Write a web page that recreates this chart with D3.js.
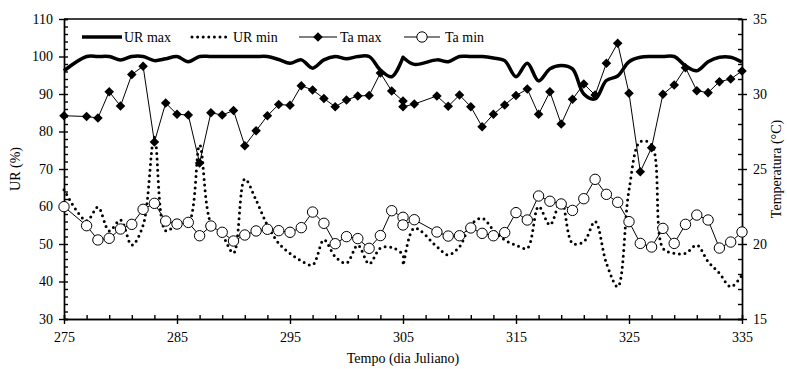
<!DOCTYPE html>
<html>
<head>
<meta charset="utf-8">
<script src="https://cdn.jsdelivr.net/npm/d3@7"></script>
<style>
  body { margin: 0; background: #fff; }
  text { font-family: "Liberation Serif", "Times New Roman", serif; fill: #000; }
</style>
</head>
<body>
<div id="vis"></div>
<script>
// set margin
const margin = { top: 19, right: 45, bottom: 50, left: 64 };
const width = 787 - margin.left - margin.right;
const height = 369 - margin.top - margin.bottom;

// julian days (276 and 307 missing, 305 measured twice)
const days = [275, 277, 278, 279, 280, 281, 282, 283, 284, 285, 286, 287, 288, 289, 290,
              291, 292, 293, 294, 295, 296, 297, 298, 299, 300, 301, 302, 303, 304, 305, 305,
              306, 308, 309, 310, 311, 312, 313, 314, 315, 316, 317, 318, 319, 320, 321,
              322, 323, 324, 325, 326, 327, 328, 329, 330, 331, 332, 333, 334, 335]

// UR (%)
const urMax = [96.2, 100, 100, 100, 99.1, 100, 100, 98.9, 99.4, 100, 98.6, 100, 100, 100, 100,
               100, 100, 100, 99.2, 98.2, 99.1, 96.9, 99.1, 100, 99.4, 100, 100, 96.4, 94.6, 99.8, 99.8,
               97.9, 99.1, 98.6, 100, 100, 100, 99.6, 98.9, 94.6, 98.2, 93.5, 96.7, 97.6, 96.7, 90,
               88.7, 93.6, 94.8, 98.6, 99.8, 100, 100, 100, 97.5, 96.2, 98.6, 99.8, 99.8, 98.5]
const urMin = [64.5, 56.2, 59.8, 53.5, 56.4, 49.7, 55, 78.5, 53.5, 55.3, 55.5, 76.4, 55.5, 52.4, 47.6,
               67.3, 61.7, 55, 50.2, 47.5, 45.5, 44.4, 51.1, 46.6, 44.9, 49.7, 44.7, 48.9, 49.1, 47, 44.4,
               54.2, 49.3, 47.1, 49.3, 55.1, 56.9, 53.7, 51.1, 49.7, 48.9, 60, 55.1, 61.7, 50.2, 50.6,
               56, 44.9, 38.6, 64.4, 77.3, 76.5, 48.9, 47.5, 47.5, 49.7, 45.3, 42.2, 38.6, 41.7]

// temperatura (°C)
const taMax = [28.55, 28.5, 28.4, 30.15, 29.2, 31.3, 31.85, 26.8, 29.4, 28.65, 28.6, 25.4, 28.75, 28.6, 28.9,
               26.55, 27.55, 28.55, 29.3, 29.25, 30.55, 30.27, 29.7, 29.15, 29.6, 29.87, 29.9, 31.4, 30.2, 29.53, 29.15,
               29.33, 29.87, 29.18, 29.93, 29.15, 27.82, 28.65, 29.27, 29.9, 30.33, 28.65, 30.15, 28.0, 29.65, 30.67,
               29.93, 32.05, 33.38, 30.05, 24.82, 26.42, 29.98, 30.6, 31.75, 30.22, 30.09, 30.82, 31.0, 31.53]
const taMin = [22.49, 21.22, 20.27, 20.38, 21.0, 21.31, 22.31, 22.71, 21.53, 21.33, 21.44, 20.55, 21.2, 20.78, 20.2,
               20.6, 20.87, 20.98, 20.89, 20.78, 21.09, 22.13, 21.38, 20.02, 20.49, 20.36, 19.71, 20.56, 22.22, 21.78, 21.27,
               21.62, 20.8, 20.53, 20.55, 21.07, 20.71, 20.55, 20.76, 22.09, 21.6, 23.2, 22.85, 22.67, 22.24, 23.02,
               24.31, 23.31, 22.78, 21.49, 20.04, 19.8, 21.04, 20.04, 21.31, 21.93, 21.6, 19.73, 20.13, 20.8]

// ticks
const xTicks = [275, 285, 295, 305, 315, 325, 335]
const urTicks = [30, 40, 50, 60, 70, 80, 90, 100, 110]
const tTicks = [15, 20, 25, 30, 35]

const legendNames = ['UR max', 'UR min', 'Ta max', 'Ta min']

const svg = d3.select('#vis')
    .append('svg')
    .attr('width', width + margin.left + margin.right)
    .attr('height', height + margin.top + margin.bottom)
    .append('g')
    .attr('transform', `translate(${margin.left},${margin.top})`)

const xScale = d3.scaleLinear().domain([275, 335]).range([0, width])
const yUR = d3.scaleLinear().domain([30, 110]).range([height, 0])
const yT = d3.scaleLinear().domain([15, 35]).range([height, 0])

function drawAxes() {
    // minor ticks point inwards
    svg.append('g')
        .attr('class', 'minor')
        .attr('transform', `translate(0,${height})`)
        .call(d3.axisBottom(xScale).tickValues(d3.range(275, 336, 2)).tickSize(-4).tickFormat(''))
    svg.append('g')
        .attr('class', 'minor')
        .call(d3.axisLeft(yUR).tickValues(d3.range(30, 111, 2)).tickSize(-4).tickFormat(''))
    svg.append('g')
        .attr('class', 'minor')
        .attr('transform', `translate(${width},0)`)
        .call(d3.axisRight(yT).tickValues(d3.range(15, 36, 1)).tickSize(-4).tickFormat(''))

    // major ticks point outwards
    svg.append('g')
        .attr('class', 'axis')
        .attr('transform', `translate(0,${height})`)
        .call(d3.axisBottom(xScale).tickValues(xTicks).tickSize(5).tickPadding(8).tickSizeOuter(0))
    svg.append('g')
        .attr('class', 'axis')
        .call(d3.axisLeft(yUR).tickValues(urTicks).tickSize(5).tickPadding(6).tickSizeOuter(0))
    svg.append('g')
        .attr('class', 'axis')
        .attr('transform', `translate(${width},0)`)
        .call(d3.axisRight(yT).tickValues(tTicks).tickSize(5).tickPadding(6).tickSizeOuter(0))

    svg.selectAll('.axis, .minor').selectAll('path, line')
        .attr('stroke', '#000')
        .attr('stroke-width', 1.4)
    svg.selectAll('.axis text')
        .style('font-size', '14px')
        .style('font-family', '"Liberation Serif", serif')
        .attr('fill', '#000')

    // top border
    svg.append('line')
        .attr('x1', 0).attr('x2', width)
        .attr('y1', 0).attr('y2', 0)
        .attr('stroke', '#000')
        .attr('stroke-width', 1.4)

    svg.append('text')
        .attr('x', width / 2)
        .attr('y', height + 44)
        .style('text-anchor', 'middle')
        .style('font-size', '14px')
        .text('Tempo (dia Juliano)')

    svg.append('text')
        .attr('transform', 'rotate(-90)')
        .attr('x', -height / 2)
        .attr('y', -margin.left + 20)
        .style('text-anchor', 'middle')
        .style('font-size', '14px')
        .text('UR (%)')

    svg.append('text')
        .attr('transform', 'rotate(-90)')
        .attr('x', -height / 2)
        .attr('y', width + 39)
        .style('text-anchor', 'middle')
        .style('font-size', '14px')
        .text('Temperatura (°C)')
}

function drawSeries() {
    const pts = vals => days.map((d, i) => ({ day: d, v: vals[i] }))
    const smooth = d3.curveCatmullRom.alpha(0.5)

    const urLine = d3.line().x(d => xScale(d.day)).y(d => yUR(d.v)).curve(smooth)
    const tLine = d3.line().x(d => xScale(d.day)).y(d => yT(d.v))

    svg.append('path')
        .datum(pts(urMax))
        .attr('d', urLine)
        .attr('fill', 'none')
        .attr('stroke', '#000')
        .attr('stroke-width', 3.5)
        .attr('stroke-linejoin', 'round')

    svg.append('path')
        .datum(pts(urMin))
        .attr('d', urLine)
        .attr('fill', 'none')
        .attr('stroke', '#000')
        .attr('stroke-width', 3)
        .attr('stroke-linecap', 'round')
        .attr('stroke-dasharray', '0 5.6')

    svg.append('path')
        .datum(pts(taMax))
        .attr('d', tLine)
        .attr('fill', 'none')
        .attr('stroke', '#000')
        .attr('stroke-width', 1)

    svg.selectAll('.diamond')
        .data(pts(taMax))
        .join('path')
        .attr('class', 'diamond')
        .attr('d', d3.symbol(d3.symbolSquare, 46))
        .attr('transform', d => `translate(${xScale(d.day)},${yT(d.v)}) rotate(45)`)
        .attr('fill', '#000')

    svg.append('path')
        .datum(pts(taMin))
        .attr('d', tLine)
        .attr('fill', 'none')
        .attr('stroke', '#000')
        .attr('stroke-width', 1)

    svg.selectAll('.dot')
        .data(pts(taMin))
        .join('circle')
        .attr('class', 'dot')
        .attr('cx', d => xScale(d.day))
        .attr('cy', d => yT(d.v))
        .attr('r', 5.2)
        .attr('fill', '#fff')
        .attr('stroke', '#000')
        .attr('stroke-width', 1)
}

function drawLegend() {
    const ly = 18
    const items = [
        { x1: 18, x2: 58, tx: 60 },
        { x1: 128, x2: 163, tx: 169 },
        { x1: 235, x2: 273, tx: 276 },
        { x1: 340, x2: 376, tx: 381 }
    ]
    const g = svg.append('g').attr('class', 'legend')

    // UR max
    g.append('line').attr('x1', items[0].x1).attr('x2', items[0].x2).attr('y1', ly).attr('y2', ly)
        .attr('stroke', '#000').attr('stroke-width', 3.5)
    // UR min
    g.append('line').attr('x1', items[1].x1).attr('x2', items[1].x2).attr('y1', ly).attr('y2', ly)
        .attr('stroke', '#000').attr('stroke-width', 3)
        .attr('stroke-linecap', 'round').attr('stroke-dasharray', '0 5.6')
    // Ta max
    g.append('line').attr('x1', items[2].x1).attr('x2', items[2].x2).attr('y1', ly).attr('y2', ly)
        .attr('stroke', '#000').attr('stroke-width', 1)
    g.append('path')
        .attr('d', d3.symbol(d3.symbolSquare, 46))
        .attr('transform', `translate(${(items[2].x1 + items[2].x2) / 2},${ly}) rotate(45)`)
        .attr('fill', '#000')
    // Ta min
    g.append('line').attr('x1', items[3].x1).attr('x2', items[3].x2).attr('y1', ly).attr('y2', ly)
        .attr('stroke', '#000').attr('stroke-width', 1)
    g.append('circle')
        .attr('cx', (items[3].x1 + items[3].x2) / 2).attr('cy', ly).attr('r', 5.2)
        .attr('fill', '#fff').attr('stroke', '#000')

    g.selectAll('text')
        .data(legendNames)
        .join('text')
        .attr('x', (d, i) => items[i].tx)
        .attr('y', ly + 5)
        .style('font-size', '14px')
        .text(d => d)
}

drawAxes()
drawSeries()
drawLegend()
</script>
</body>
</html>
